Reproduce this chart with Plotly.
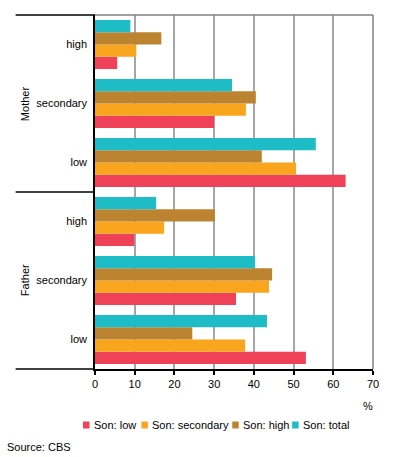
import plotly.graph_objects as go

# Categories (bottom to top as plotted)
parents = ["Father", "Father", "Father", "Mother", "Mother", "Mother"]
levels = ["low", "secondary", "high", "low", "secondary", "high"]
cat_ids = [p + " " + l for p, l in zip(parents, levels)]

series_names = ["Son: low", "Son: secondary", "Son: high", "Son: total"]
son_low = [53.1, 35.5, 9.9, 63.1, 30.0, 5.6]
son_secondary = [37.8, 43.8, 17.4, 50.6, 38.0, 10.4]
son_high = [24.5, 44.6, 30.2, 42.0, 40.5, 16.7]
son_total = [43.3, 40.3, 15.4, 55.6, 34.5, 8.9]
series_values = [son_low, son_secondary, son_high, son_total]
colors = ["#EF4157", "#F9A51E", "#BC8431", "#1DBCC6"]

x_ticks = [0, 10, 20, 30, 40, 50, 60, 70]

FONT = "Liberation Sans, Arial, sans-serif"

# plot area in pixels
PL, PR, PT, PB = 94.5, 373.0, 15.0, 369.0
PW, PH = PR - PL, PB - PT


def px(x):
    return (x - PL) / PW


def py(y):
    return (PB - y) / PH


fig = go.Figure()
for name, vals, col in zip(series_names, series_values, colors):
    fig.add_trace(go.Bar(
        y=cat_ids, x=vals, name=name, orientation="h",
        marker=dict(color=col, line=dict(width=0)),
        showlegend=False,
    ))

left_ext = px(15)
shapes = [
    dict(type="line", xref="paper", yref="paper", x0=left_ext, x1=0, y0=1, y1=1,
         line=dict(color="black", width=1.5)),
    dict(type="line", xref="paper", yref="paper", x0=left_ext, x1=0, y0=0.5, y1=0.5,
         line=dict(color="black", width=1.5)),
    dict(type="line", xref="paper", yref="paper", x0=left_ext, x1=0, y0=0, y1=0,
         line=dict(color="black", width=1.5)),
    dict(type="line", xref="paper", yref="paper", x0=0, x1=1, y0=1, y1=1,
         line=dict(color="#808080", width=1.5)),
    dict(type="line", xref="paper", yref="paper", x0=1, x1=1, y0=0, y1=1,
         line=dict(color="#808080", width=1.5)),
]

annotations = [
    dict(text="Mother", xref="paper", yref="paper", x=px(24), y=0.75,
         textangle=-90, showarrow=False, font=dict(family=FONT, size=11, color="black"),
         xanchor="center", yanchor="middle"),
    dict(text="Father", xref="paper", yref="paper", x=px(24), y=0.25,
         textangle=-90, showarrow=False, font=dict(family=FONT, size=11, color="black"),
         xanchor="center", yanchor="middle"),
    dict(text="%", xref="paper", yref="paper", x=px(368), y=py(406),
         showarrow=False, font=dict(family=FONT, size=11, color="black"),
         xanchor="center", yanchor="middle"),
    dict(text="Source: CBS", xref="paper", yref="paper", x=px(4), y=py(447),
         showarrow=False, font=dict(family=FONT, size=11, color="black"),
         xanchor="left", yanchor="middle"),
]

# legend (swatch + label), positioned like the reference
legend_x = [82.5, 141, 232, 292]
legend_y = 425
for lx, name, col in zip(legend_x, series_names, colors):
    shapes.append(dict(type="rect", xref="paper", yref="paper",
                       x0=px(lx), x1=px(lx + 6.5), y0=py(legend_y + 3.5), y1=py(legend_y - 3.5),
                       fillcolor=col, line=dict(width=0)))
    annotations.append(dict(text=name, xref="paper", yref="paper", x=px(lx + 8.5),
                            y=py(legend_y), showarrow=False, xanchor="left",
                            yanchor="middle", font=dict(family=FONT, size=11, color="black")))

fig.update_layout(
    width=396, height=457,
    margin=dict(l=PL, r=396 - PR, t=PT, b=457 - PB, pad=0, autoexpand=False),
    paper_bgcolor="white", plot_bgcolor="white",
    barmode="group", bargap=0.17, bargroupgap=0,
    font=dict(family=FONT, size=11, color="black"),
    showlegend=False,
    xaxis=dict(range=[0, 70], tickvals=x_ticks, ticktext=[str(t) for t in x_ticks],
               showgrid=True, gridcolor="#A6A6A6", gridwidth=1.5,
               zeroline=False, showline=True, linecolor="black", linewidth=1.5,
               ticks="outside", ticklen=4, tickcolor="black", tickwidth=1.5,
               tickfont=dict(family=FONT, size=11, color="black"), fixedrange=True,
               automargin=False),
    yaxis=dict(type="category", categoryorder="array", categoryarray=cat_ids,
               tickvals=cat_ids, ticktext=levels,
               showgrid=False, zeroline=False, showline=True, linecolor="black",
               linewidth=1.5, ticks="", ticklabelstandoff=4,
               tickfont=dict(family=FONT, size=11, color="black"), fixedrange=True,
               automargin=False),
    shapes=shapes,
    annotations=annotations,
)

fig.write_html(
    "out.html",
    config={"displayModeBar": False},
    post_script="document.body.style.margin='0';document.body.style.overflow='hidden';",
)
